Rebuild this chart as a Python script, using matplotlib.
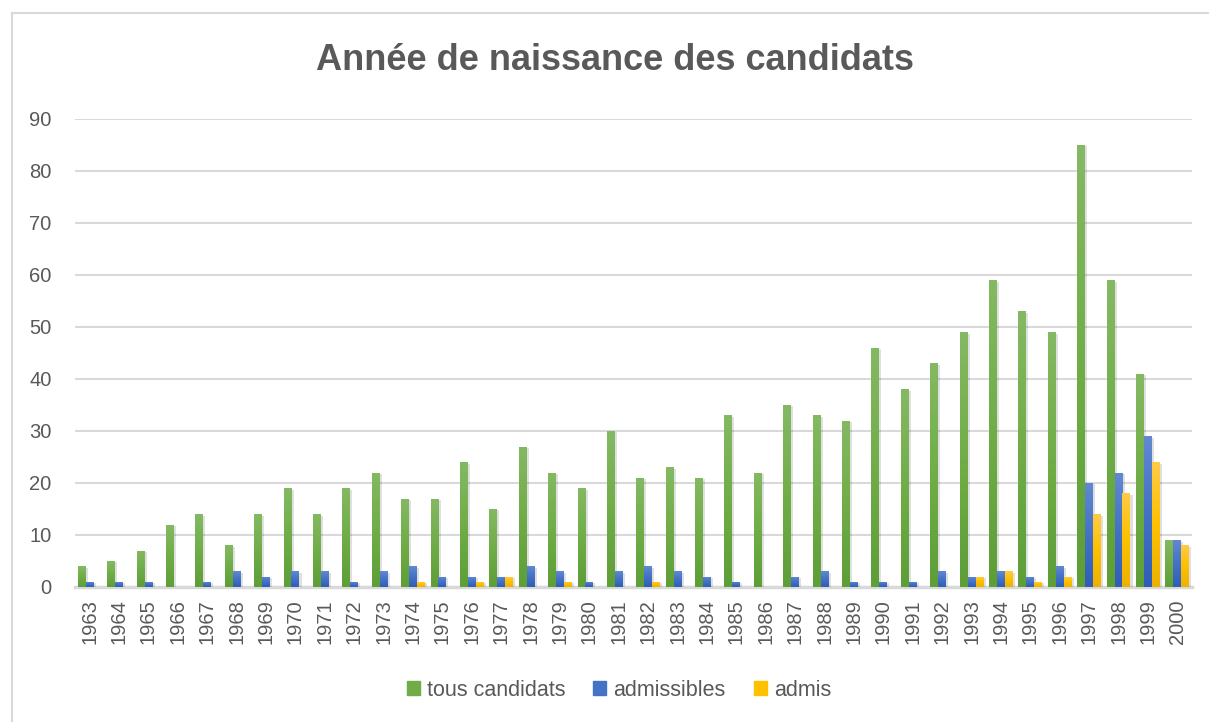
import matplotlib
matplotlib.use("Agg")
import matplotlib.pyplot as plt
import numpy as np
from matplotlib.patches import Rectangle
from matplotlib.lines import Line2D
from matplotlib.colors import LinearSegmentedColormap
import matplotlib.patheffects as pe

years = [str(y) for y in range(1963, 2001)]
tous_candidats = [4, 5, 7, 12, 14, 8, 14, 19, 14, 19,
                  22, 17, 17, 24, 15, 27, 22, 19, 30, 21,
                  23, 21, 33, 22, 35, 33, 32, 46, 38, 43,
                  49, 59, 53, 49, 85, 59, 41, 9]
admissibles = [1, 1, 1, 0, 1, 3, 2, 3, 3, 1,
               3, 4, 2, 2, 2, 4, 3, 1, 3, 4,
               3, 2, 1, 0, 2, 3, 1, 1, 1, 3,
               2, 3, 2, 4, 20, 22, 29, 9]
admis = [0, 0, 0, 0, 0, 0, 0, 0, 0, 0,
         0, 1, 0, 1, 2, 0, 1, 0, 0, 1,
         0, 0, 0, 0, 0, 0, 0, 0, 0, 0,
         2, 3, 1, 2, 14, 18, 24, 8]

series = [("tous candidats", tous_candidats, "#70AD47", ("#5E9E37", "#84B963")),
          ("admissibles", admissibles, "#4472C4", ("#2F5EB8", "#6189D2")),
          ("admis", admis, "#FFC000", ("#EDB200", "#FFCB45"))]

plt.rcParams['font.family'] = ['Liberation Sans', 'DejaVu Sans']
W, H = 1209, 722
fig = plt.figure(figsize=(W / 100, H / 100), dpi=100)
fig.patch.set_facecolor("white")

# chart frame (left and top edges visible)
fig.add_artist(Line2D([11.5 / W, 11.5 / W], [0, 1 - 13 / H], transform=fig.transFigure,
                      color="#D9D9D9", lw=1.5))
fig.add_artist(Line2D([11.5 / W, 1], [1 - 13 / H, 1 - 13 / H], transform=fig.transFigure,
                      color="#D9D9D9", lw=1.5))

ax = fig.add_axes([75 / W, 1 - 587 / H, (1192 - 75) / W, (587 - 119) / H])
x = np.arange(len(years))
w = 0.27
grad = np.linspace(1, 0, 64).reshape(-1, 1)
for i, (name, vals, col, (c_bot, c_top)) in enumerate(series):
    bars = ax.bar(x + (i - 1) * w, vals, width=w, color=col, label=name, zorder=3,
                  path_effects=[pe.SimplePatchShadow(offset=(1.5, -1), shadow_rgbFace="#000000",
                                                     alpha=0.12), pe.Normal()])
    cmap = LinearSegmentedColormap.from_list(name, [c_bot, col, c_top])
    for rect in bars:
        h = rect.get_height()
        if h <= 0:
            continue
        x0 = rect.get_x()
        im = ax.imshow(grad, extent=[x0, x0 + rect.get_width(), 0, h], aspect="auto",
                       cmap=cmap, vmin=0, vmax=1, zorder=3.5, interpolation="bilinear")
        im.set_clip_path(rect)

ax.set_xlim(-0.5, len(years) - 0.5)
ax.set_ylim(0, 90)
ax.set_aspect("auto")
ax.set_yticks(range(0, 91, 10))
ax.grid(axis="y", color="#D9D9D9", lw=1.5, zorder=0)
for s in ["top", "right", "left"]:
    ax.spines[s].set_visible(False)
ax.spines["bottom"].set_color("#D9D9D9")
ax.spines["bottom"].set_linewidth(2.5)
ax.set_xticks(x)
ax.set_xticklabels(years, rotation=90)
ax.tick_params(axis="both", length=0, labelsize=14.5, labelcolor="#595959")
ax.tick_params(axis="x", pad=9)
ax.tick_params(axis="y", pad=17)

fig.text(615 / W, 1 - 61 / H, "Année de naissance des candidats", ha="center", va="center",
         fontsize=26, fontweight="bold", color="#595959")

handles = [Rectangle((0, 0), 1, 1, color=c) for _, _, c, _ in series]
fig.legend(handles, [n for n, _, _, _ in series], loc="center", bbox_to_anchor=(0.512, 1 - 690 / H),
           ncol=3, frameon=False, fontsize=15.5, labelcolor="#595959",
           handlelength=0.6, handleheight=0.6, handletextpad=0.33, columnspacing=1.3)

fig.savefig("out.png", dpi=100)
